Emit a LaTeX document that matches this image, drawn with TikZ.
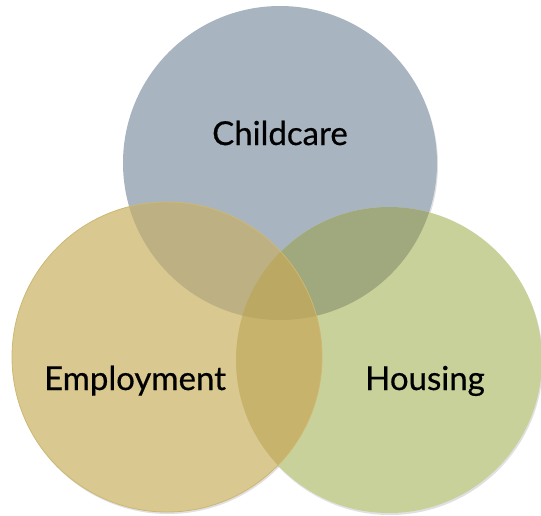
\documentclass[tikz,border=0pt]{standalone}
\usepackage{fontspec}
\setmainfont{Lato}
\newfontfamily\lblfont{Lato}[FakeBold=0.5]
\usetikzlibrary{calc}
\definecolor{cTop}{HTML}{A8B4C0}
\definecolor{cLeft}{HTML}{D9C890}
\definecolor{cRight}{HTML}{C9D19A}
\definecolor{cTL}{HTML}{BDB083}
\definecolor{cTR}{HTML}{9FA97D}
\definecolor{cLR}{HTML}{C7B36B}
\definecolor{cAll}{HTML}{BAA863}
\definecolor{rimL}{HTML}{CDB872}
\begin{document}
\begin{tikzpicture}[x=1pt,y=-1pt,
  lbl/.style={font=\lblfont\fontsize{33}{37}\selectfont, text=black, anchor=base, inner sep=0pt},
  shade/.style={fill=black, opacity=0.12}]
\useasboundingbox (0,0) rectangle (541,515);
\coordinate (ct) at (280,163);
\coordinate (cl) at (167,357);
\coordinate (cr) at (389,360);
\def\Rt{157pt}\def\Rl{155pt}\def\Rr{153pt}
% soft shadows
\fill[shade] ($(ct)+(1,2)$) circle[radius=\Rt];
\fill[shade] ($(cr)+(1,2)$) circle[radius=\Rr];
\fill[shade] ($(cl)+(1,2)$) circle[radius=\Rl];
% base circles
\fill[cTop] (ct) circle[radius=\Rt];
\fill[cRight] (cr) circle[radius=\Rr];
\fill[cLeft] (cl) circle[radius=\Rl];
% pairwise overlaps
\begin{scope}
  \clip (ct) circle[radius=\Rt];
  \fill[cTL] (cl) circle[radius=\Rl];
  \fill[cTR] (cr) circle[radius=\Rr];
\end{scope}
\begin{scope}
  \clip (cl) circle[radius=\Rl];
  \fill[cLR] (cr) circle[radius=\Rr];
  \clip (cr) circle[radius=\Rr];
  \fill[cAll] (ct) circle[radius=\Rt];
\end{scope}
% rim of the left circle
\draw[rimL, line width=0.8pt] (cl) circle[radius=\Rl];
% labels
\node[lbl] (child) at (280,145) {Childcare};
\node[lbl] (emp) at (135,390) {Employment};
\node[lbl] (hous) at (425,390) {Housing};
\end{tikzpicture}
\end{document}
